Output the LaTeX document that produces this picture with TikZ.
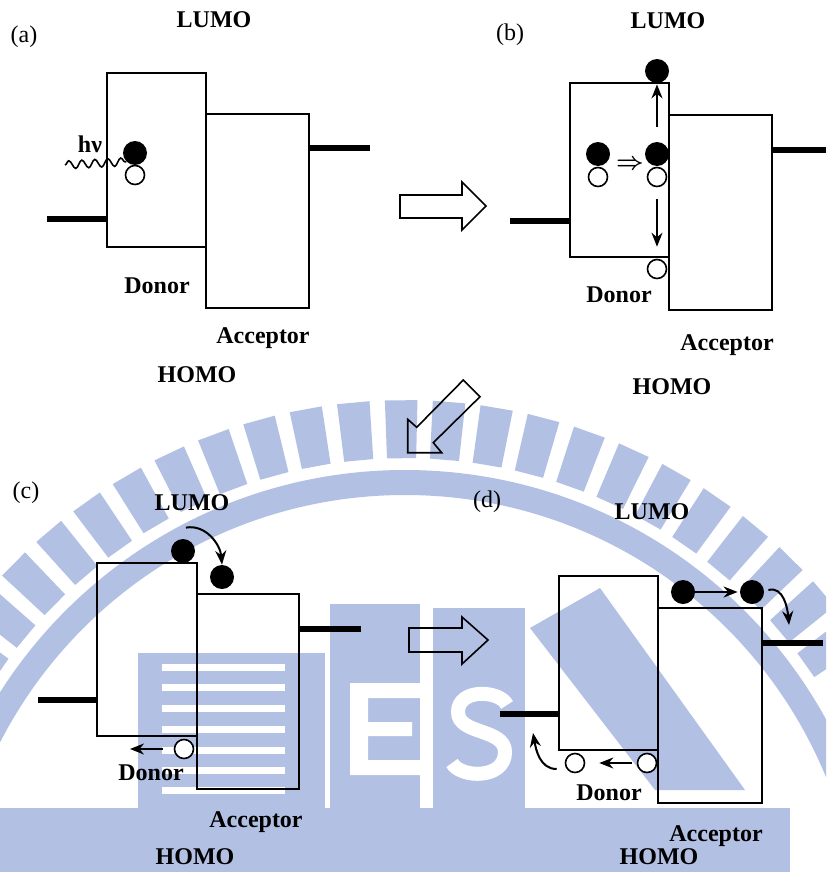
\documentclass[tikz,border=0pt]{standalone}
\usepackage{fontspec}
\setmainfont{Liberation Serif}
\usetikzlibrary{positioning,arrows.meta,fit,decorations.pathmorphing}
\definecolor{wmark}{RGB}{178,192,228}

\tikzset{
  bandbox/.style={draw,line width=0.9pt,inner sep=0pt},
  bar/.style={line width=3.3pt},
  elec/.style={circle,fill=black,inner sep=0pt,minimum size=12pt},
  hole/.style={circle,draw,fill=white,line width=0.8pt,inner sep=0pt,minimum size=9.5pt},
  lbl/.style={font=\fontsize{12}{14}\selectfont\bfseries},
  tag/.style={font=\fontsize{12}{14}\selectfont},
  arr/.style={-{Stealth[length=7pt,width=5.5pt]},line width=1pt},
  bigarrow/.style={draw,line width=0.8pt},
  wave/.style={decorate,decoration={snake,segment length=6.5pt,amplitude=2pt},line width=0.8pt},
}

\begin{document}
\begin{tikzpicture}[x=0.5pt,y=-0.5pt]
  \useasboundingbox (0,0) rectangle (826,872);
  % watermark in the background
  \begin{scope}
    \clip (0,0) rectangle (826,872);
    \begin{scope}[shift={(405,950)},y=0.5pt]
      \fill[wmark,even odd rule] (0,0) circle (480) (0,0) circle (455);
      \foreach \k in {-11,...,11}
        \fill[wmark] ({90.4+5*\k-1.7}:492) -- ({90.4+5*\k+1.7}:492)
          -- ({90.4+5*\k+1.7}:550) -- ({90.4+5*\k-1.7}:550) -- cycle;
    \end{scope}
    \fill[wmark] (0,808) rectangle (790,872);
    \fill[wmark] (138,653) rectangle (325,808);
    \foreach \y in {667,687,708,729,750,770,790}
      \fill[white] (162,\y-3.5) rectangle (285,\y+3.5);
    \fill[wmark] (330,604) rectangle (420,808);
    \fill[white] (350,683) rectangle (368,775) (350,683) rectangle (420,698)
      (350,722) rectangle (412,736) (350,760) rectangle (420,775);
    \fill[wmark] (433,608) rectangle (525,808);
    \draw[white,line width=7pt] (507,705) .. controls (500,690) and (458,688) .. (458,712)
      .. controls (458,735) and (505,728) .. (505,752) .. controls (505,780) and (460,778) .. (452,763);
    \fill[wmark] (530,628) -- (600,588) -- (745,790) -- (655,790) -- cycle;
  \end{scope}

  % (a) excitation
  \node[tag] (aTag) at (24,37) {(a)};
  \node[lbl] (aL) at (214,20) {LUMO};
  \node[bandbox,fit={(107,73) (206,247)}] (aD) {};
  \node[bandbox,fit={(206,114) (309,308)}] (aA) {};
  \draw[bar] (47,219) -- (aD.west |- 0,219);
  \draw[bar] (aA.east |- 0,148) -- (370,148);
  \node[hole] (aH) at (135,175) {};
  \node[elec] (aE) at (135,153) {};
  \node[lbl] (aHv) at (90,144) {hν};
  \coordinate (aW) at (65,165);
  \draw[wave] (aW) -- (aE.south west);
  \node[lbl] (aDn) at (157,286) {Donor};
  \node[lbl] (aAc) at (263,338) {Acceptor};
  \node[lbl] (aHo) at (197,375) {HOMO};

  \draw[bigarrow] (400,195) -- (462,195) -- (462,182) -- (486,206) -- (462,230)
    -- (462,218) -- (400,218) -- cycle;

  % (b) exciton at the interface
  \node[tag] (bTag) at (510,35) {(b)};
  \node[lbl] (bL) at (668,21) {LUMO};
  \node[bandbox,fit={(570,83) (669,257)}] (bD) {};
  \node[bandbox,fit={(669,115) (772,310)}] (bA) {};
  \draw[bar] (510,221) -- (bD.west |- 0,221);
  \draw[bar] (bA.east |- 0,150) -- (826,150);
  \node[hole] (bH1) at (598,177) {};
  \node[elec] (bE1) at (598,154) {};
  \node[font=\fontsize{12}{12}\selectfont\boldmath] (bTo) at (630,165) {$\Rightarrow$};
  \node[hole] (bH2) at (657,177) {};
  \node[elec] (bE2) at (657,154) {};
  \node[elec] (bEt) at (657,71) {};
  \node[hole] (bHb) at (657,269) {};
  \draw[arr,shorten <=7.5pt,shorten >=0.5pt] (bE2) -- (bEt);
  \draw[arr,shorten <=6pt,shorten >=6pt] (bH2) -- (bHb);
  \node[lbl] (bDn) at (619,295) {Donor};
  \node[lbl] (bAc) at (727,345) {Acceptor};
  \node[lbl] (bHo) at (672,387) {HOMO};

  \draw[bigarrow] (407.7,419.3) -- (416.7,427.3) -- (463.3,380) -- (480,396.7)
    -- (433.3,442.7) -- (441.7,452.7) -- (407.7,452.7) -- cycle;

  % (c) charge separation
  \node[tag] (cTag) at (26,493) {(c)};
  \node[lbl] (cL) at (192,503) {LUMO};
  \node[bandbox,fit={(97,563) (197,736)}] (cD) {};
  \node[bandbox,fit={(197,594) (299,789)}] (cA) {};
  \draw[bar] (38,700) -- (cD.west |- 0,700);
  \draw[bar] (cA.east |- 0,629) -- (361,629);
  \node[elec] (cE1) at (183,551) {};
  \node[elec] (cE2) at (222,577) {};
  \draw[arr] ([shift={(1.5pt,5.5pt)}]cE1.north) to[out=10,in=95] (cE2.north);
  \node[hole] (cH) at (184,749) {};
  \coordinate (cHend) at (130,749);
  \draw[arr,shorten <=5.5pt] (cH) -- (cHend);
  \node[lbl] (cDn) at (151,773) {Donor};
  \node[lbl] (cAc) at (256,822) {Acceptor};
  \node[lbl] (cHo) at (195,857) {HOMO};

  \draw[bigarrow] (409,628) -- (462,628) -- (462,617) -- (488,640) -- (462,664)
    -- (462,652) -- (409,652) -- cycle;

  % (d) charge transport and collection
  \node[tag] (dTag) at (487,502) {(d)};
  \node[lbl] (dL) at (652,512) {LUMO};
  \node[bandbox,fit={(559,576) (658,750)}] (dD) {};
  \node[bandbox,fit={(658,608) (762,803)}] (dA) {};
  \draw[bar] (500,714) -- (dD.west |- 0,714);
  \draw[bar] (dA.east |- 0,643) -- (823,643);
  \node[elec] (dE1) at (683,592) {};
  \node[elec] (dE2) at (752,592) {};
  \draw[arr,shorten >=1pt] (dE1) -- (dE2);
  \coordinate (dEend) at (789,625);
  \draw[arr] ([shift={(2pt,1pt)}]dE2.east) to[out=15,in=95] (dEend);
  \node[hole] (dH1) at (575,763) {};
  \node[hole] (dH2) at (647,763) {};
  \draw[arr,shorten <=2.5pt,shorten >=7pt] (dH2) -- (dH1);
  \coordinate (dHend) at (533,733);
  \draw[arr] ([shift={(-4pt,-3pt)}]dH1.west) to[out=180,in=-80] (dHend);
  \node[lbl] (dDn) at (609,793) {Donor};
  \node[lbl] (dAc) at (716,836) {Acceptor};
  \node[lbl] (dHo) at (659,857) {HOMO};
\end{tikzpicture}
\end{document}
